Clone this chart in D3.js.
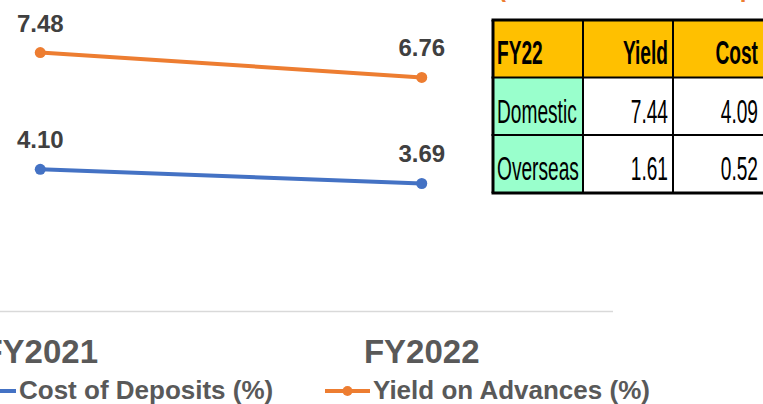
<!DOCTYPE html>
<html><head><meta charset="utf-8">
<script src="https://cdn.jsdelivr.net/npm/d3@7"></script>
<style>
html,body{margin:0;padding:0;background:#fff;overflow:hidden}
svg{display:block}
</style></head>
<body><svg id="c" width="763" height="404"></svg>
<script>
// ---- data ----
const categories = ["FY2021", "FY2022"];
const costOfDeposits = [4.10, 3.69];
const yieldOnAdvances = [7.48, 6.76];
const seriesNames = ["Cost of Deposits (%)", "Yield on Advances (%)"];
const seriesColors = ["#4472C4", "#ED7D31"];
const tableHeader = ["FY22", "Yield", "Cost"];
const tableRowNames = ["Domestic", "Overseas"];
const tableYield = ["7.44", "1.61"];
const tableCost = ["4.09", "0.52"];

const svg = d3.select("#c");
const font = "'Liberation Sans', Arial, sans-serif";

const x = d3.scaleBand().domain(categories).range([-150.5, 612.5]).padding(0);
const y = d3.scaleLinear().domain([0, 9]).range([311, 0]);
const cx = c => x(c) + x.bandwidth() / 2;

// axis line (category axis)
const xAxis = d3.axisBottom(x).tickSize(0).tickPadding(0).tickFormat("");
const gx = svg.append("g").attr("transform", `translate(0,${y(0)})`).call(xAxis);
gx.select(".domain").attr("stroke", "#D9D9D9").attr("stroke-width", 1.5);

// category labels
svg.append("g").selectAll("text").data(categories).join("text")
  .attr("x", d => cx(d)).attr("y", 363)
  .attr("text-anchor", "middle")
  .attr("font-family", font).attr("font-weight", "bold")
  .attr("font-size", 33).attr("fill", "#595959")
  .text(d => d);

// series
const series = [
  { name: seriesNames[0], color: seriesColors[0], values: costOfDeposits },
  { name: seriesNames[1], color: seriesColors[1], values: yieldOnAdvances }
];
const line = d3.line().x((d, i) => cx(categories[i])).y(d => y(d));

series.forEach(s => {
  const g = svg.append("g");
  g.append("path").datum(s.values)
    .attr("d", line).attr("fill", "none")
    .attr("stroke", s.color).attr("stroke-width", 4).attr("stroke-linecap", "round");
  g.selectAll("circle").data(s.values).join("circle")
    .attr("cx", (d, i) => cx(categories[i])).attr("cy", d => y(d))
    .attr("r", 5.5).attr("fill", s.color);
  g.selectAll("text").data(s.values).join("text")
    .attr("x", (d, i) => cx(categories[i])).attr("y", d => y(d) - 21)
    .attr("text-anchor", "middle")
    .attr("font-family", font).attr("font-weight", "bold")
    .attr("font-size", 24).attr("fill", "#404040")
    .text(d => d.toFixed(2));
});

// legend
const legend = svg.append("g");
series.forEach((s, i) => {
  const lx = -29 + i * 354;
  const ly = 391;
  legend.append("line").attr("x1", lx).attr("x2", lx + 45).attr("y1", ly).attr("y2", ly)
    .attr("stroke", s.color).attr("stroke-width", 4);
  legend.append("circle").attr("cx", lx + 22.5).attr("cy", ly).attr("r", 5).attr("fill", s.color);
  legend.append("text").attr("x", lx + 48).attr("y", 399)
    .attr("font-family", font).attr("font-weight", "bold")
    .attr("font-size", 26).attr("fill", "#595959")
    .text(s.name);
});

// clipped orange title above table
svg.append("text").attr("x", 498).attr("y", -3)
  .attr("font-family", font).attr("font-weight", "bold")
  .attr("font-size", 24).attr("fill", "#ED7D31")
  .text("(Yield & Cost break-up (%))");

// table
const tbl = svg.append("g");
const colX = [493, 583, 673, 763];
const rowY = [20, 77.5, 135, 193];
const sx = 0.58;
const rows = [
  { cells: tableHeader, bold: true, fills: ["#FFC000", "#FFC000", "#FFC000"] },
  ...tableRowNames.map((n, i) => ({ cells: [n, tableYield[i], tableCost[i]], bold: false, fills: ["#99FFCC", "#FFFFFF", "#FFFFFF"] }))
];
const baselines = [64, 123, 180];
rows.forEach((r, ri) => {
  r.cells.forEach((c, ci) => {
    tbl.append("rect").attr("x", colX[ci]).attr("y", rowY[ri])
      .attr("width", colX[ci + 1] - colX[ci]).attr("height", rowY[ri + 1] - rowY[ri])
      .attr("fill", r.fills[ci]);
  });
});
// grid lines
colX.slice(0, 3).forEach((cxv, i) => {
  tbl.append("line").attr("x1", cxv).attr("x2", cxv).attr("y1", rowY[0]).attr("y2", rowY[3])
    .attr("stroke", "#000").attr("stroke-width", i === 0 ? 3 : 2);
});
rowY.forEach((ry, i) => {
  tbl.append("line").attr("x1", colX[0] - 1.5).attr("x2", 763).attr("y1", ry).attr("y2", ry)
    .attr("stroke", "#000").attr("stroke-width", (i === 0 || i === 3) ? 3 : 2);
});
rows.forEach((r, ri) => {
  r.cells.forEach((c, ci) => {
    const left = ci === 0;
    const tx = left ? colX[0] + 4 : colX[ci + 1] - 5;
    tbl.append("text")
      .attr("transform", `translate(${tx},${baselines[ri]}) scale(${sx},1)`)
      .attr("text-anchor", left ? "start" : "end")
      .attr("font-family", "'Liberation Sans', Arial, sans-serif")
      .attr("font-weight", r.bold ? "bold" : "normal")
      .attr("font-size", 33).attr("fill", "#000")
      .text(c);
  });
});
</script>
</body></html>
